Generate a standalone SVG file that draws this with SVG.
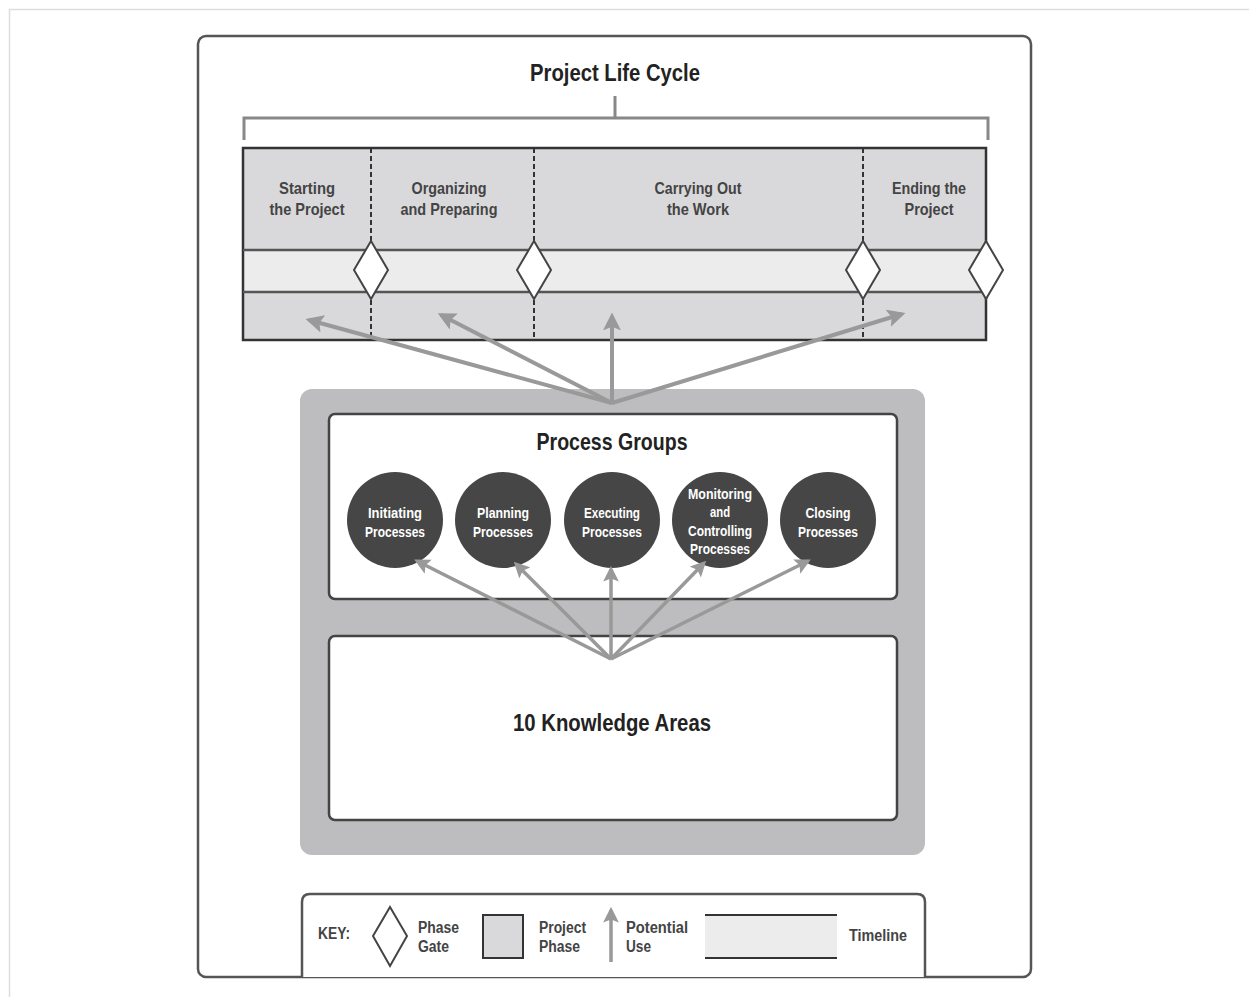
<svg xmlns="http://www.w3.org/2000/svg" width="1249" height="997" viewBox="0 0 1249 997">
<style>
.t{font-family:"Liberation Sans",Arial,sans-serif;font-weight:bold;fill:#333;text-anchor:middle}
.h{font-size:24px;fill:#222}
.p{font-size:17px;fill:#444}
.c{font-size:14px;fill:#fff}
.k{font-size:16px;fill:#444;text-anchor:start}
.dash{stroke:#333;stroke-width:2;stroke-dasharray:5,3}
.gate{fill:#fff;stroke:#444;stroke-width:2}
.arr{stroke:#999;stroke-width:4;fill:none;marker-end:url(#ah)}
.arr2{stroke:#999;stroke-width:3.5;fill:none;marker-end:url(#ah)}
.circ{fill:#464646}
</style>
<defs>
<marker id="ah" viewBox="0 0 10 10" refX="8" refY="5" markerWidth="4.5" markerHeight="4.5" orient="auto" markerUnits="strokeWidth">
<path d="M0,0 L10,5 L0,10 L2,5 z" fill="#999"/>
</marker>
</defs>
<rect width="1249" height="997" fill="#fff"/>
<path d="M9.5,997 V9.5 H1249" fill="none" stroke="#ddd" stroke-width="1.5"/>
<g id="frame">
<rect x="198" y="36" width="833" height="941" rx="8" fill="#fff" stroke="#555" stroke-width="2.5"/>
</g>
<g id="lifecycle-title">
<text class="t h" x="615" y="81" textLength="170" lengthAdjust="spacingAndGlyphs">Project Life Cycle</text>
<path d="M244,140 V118 H988 V140 M615,96 V118" fill="none" stroke="#888" stroke-width="3"/>
</g>
<g id="phase-table">
<rect x="243" y="148" width="743" height="102" fill="#d9d9db"/>
<rect x="243" y="250" width="743" height="42" fill="#ececec"/>
<rect x="243" y="292" width="743" height="48" fill="#d9d9db"/>
<rect x="243" y="148" width="743" height="192" fill="none" stroke="#333" stroke-width="2.5"/>
<line x1="243" y1="250" x2="986" y2="250" stroke="#555" stroke-width="2.5"/>
<line x1="243" y1="292" x2="986" y2="292" stroke="#555" stroke-width="2.5"/>
<line class="dash" x1="371" y1="148" x2="371" y2="340"/>
<line class="dash" x1="534" y1="148" x2="534" y2="340"/>
<line class="dash" x1="863" y1="148" x2="863" y2="340"/>
</g>
<g id="phase-starting">
<text class="t p" x="307" y="194" textLength="56" lengthAdjust="spacingAndGlyphs">Starting</text>
<text class="t p" x="307" y="215" textLength="75" lengthAdjust="spacingAndGlyphs">the Project</text>
</g>
<g id="phase-organizing">
<text class="t p" x="449" y="194" textLength="75" lengthAdjust="spacingAndGlyphs">Organizing</text>
<text class="t p" x="449" y="215" textLength="97" lengthAdjust="spacingAndGlyphs">and Preparing</text>
</g>
<g id="phase-carrying">
<text class="t p" x="698" y="194" textLength="87" lengthAdjust="spacingAndGlyphs">Carrying Out</text>
<text class="t p" x="698" y="215" textLength="62" lengthAdjust="spacingAndGlyphs">the Work</text>
</g>
<g id="phase-ending">
<text class="t p" x="929" y="194" textLength="74" lengthAdjust="spacingAndGlyphs">Ending the</text>
<text class="t p" x="929" y="215" textLength="49" lengthAdjust="spacingAndGlyphs">Project</text>
</g>
<g id="gates">
<path class="gate" d="M371,241 L388,270 L371,299 L354,270 Z"/>
<path class="gate" d="M534,241 L551,270 L534,299 L517,270 Z"/>
<path class="gate" d="M863,241 L880,270 L863,299 L846,270 Z"/>
<path class="gate" d="M986,241 L1003,270 L986,299 L969,270 Z"/>
</g>
<g id="container">
<rect x="300" y="389" width="625" height="466" rx="12" fill="#bdbdbf"/>
</g>
<g id="process-groups">
<rect x="329" y="414" width="568" height="185" rx="6" fill="#fff" stroke="#444" stroke-width="2.5"/>
<text class="t h" x="612" y="450" textLength="151" lengthAdjust="spacingAndGlyphs">Process Groups</text>
</g>
<g id="knowledge-areas">
<rect x="329" y="636" width="568" height="184" rx="6" fill="#fff" stroke="#444" stroke-width="2.5"/>
<text class="t h" x="612" y="731" textLength="198" lengthAdjust="spacingAndGlyphs">10 Knowledge Areas</text>
</g>
<g id="initiating">
<circle class="circ" cx="395" cy="520" r="48"/>
<text class="t c" x="395" y="518" textLength="54" lengthAdjust="spacingAndGlyphs">Initiating</text>
<text class="t c" x="395" y="537" textLength="60" lengthAdjust="spacingAndGlyphs">Processes</text>
</g>
<g id="planning">
<circle class="circ" cx="503" cy="520" r="48"/>
<text class="t c" x="503" y="518" textLength="52" lengthAdjust="spacingAndGlyphs">Planning</text>
<text class="t c" x="503" y="537" textLength="60" lengthAdjust="spacingAndGlyphs">Processes</text>
</g>
<g id="executing">
<circle class="circ" cx="612" cy="520" r="48"/>
<text class="t c" x="612" y="518" textLength="56" lengthAdjust="spacingAndGlyphs">Executing</text>
<text class="t c" x="612" y="537" textLength="60" lengthAdjust="spacingAndGlyphs">Processes</text>
</g>
<g id="monitoring">
<circle class="circ" cx="720" cy="520" r="48"/>
<text class="t c" x="720" y="499" textLength="64" lengthAdjust="spacingAndGlyphs">Monitoring</text>
<text class="t c" x="720" y="517" textLength="20" lengthAdjust="spacingAndGlyphs">and</text>
<text class="t c" x="720" y="536" textLength="64" lengthAdjust="spacingAndGlyphs">Controlling</text>
<text class="t c" x="720" y="554" textLength="60" lengthAdjust="spacingAndGlyphs">Processes</text>
</g>
<g id="closing">
<circle class="circ" cx="828" cy="520" r="48"/>
<text class="t c" x="828" y="518" textLength="45" lengthAdjust="spacingAndGlyphs">Closing</text>
<text class="t c" x="828" y="537" textLength="60" lengthAdjust="spacingAndGlyphs">Processes</text>
</g>
<g id="connectors">
<line class="arr" x1="612" y1="403" x2="309" y2="320"/>
<line class="arr" x1="612" y1="403" x2="441" y2="315"/>
<line class="arr" x1="612" y1="403" x2="612" y2="316"/>
<line class="arr" x1="612" y1="403" x2="902" y2="314"/>
<line class="arr2" x1="611" y1="659" x2="417" y2="561"/>
<line class="arr2" x1="611" y1="659" x2="516" y2="564"/>
<line class="arr2" x1="611" y1="659" x2="611" y2="569"/>
<line class="arr2" x1="611" y1="659" x2="704" y2="563"/>
<line class="arr2" x1="611" y1="659" x2="808" y2="561"/>
</g>
<g id="key">
<path d="M302,977 V902 Q302,894 310,894 H917 Q925,894 925,902 V977" fill="#fff" stroke="#555" stroke-width="2.5"/>
<text class="t k" x="318" y="939" textLength="32" lengthAdjust="spacingAndGlyphs" fill="#222">KEY:</text>
<path class="gate" d="M390,907 L407,936 L390,966 L373,936 Z"/>
<text class="t k" x="418" y="933" textLength="41" lengthAdjust="spacingAndGlyphs">Phase</text>
<text class="t k" x="418" y="952" textLength="31" lengthAdjust="spacingAndGlyphs">Gate</text>
<rect x="483" y="915" width="40" height="43" fill="#d9d9db" stroke="#333" stroke-width="2"/>
<text class="t k" x="539" y="933" textLength="47" lengthAdjust="spacingAndGlyphs">Project</text>
<text class="t k" x="539" y="952" textLength="41" lengthAdjust="spacingAndGlyphs">Phase</text>
<line class="arr2" x1="611" y1="962" x2="611" y2="910"/>
<text class="t k" x="626" y="933" textLength="62" lengthAdjust="spacingAndGlyphs">Potential</text>
<text class="t k" x="626" y="952" textLength="25" lengthAdjust="spacingAndGlyphs">Use</text>
<rect x="705" y="915" width="132" height="43" fill="#ececec"/>
<line x1="705" y1="915" x2="837" y2="915" stroke="#333" stroke-width="2"/>
<line x1="705" y1="958" x2="837" y2="958" stroke="#333" stroke-width="2"/>
<text class="t k" x="849" y="941" textLength="58" lengthAdjust="spacingAndGlyphs">Timeline</text>
</g>
</svg>
